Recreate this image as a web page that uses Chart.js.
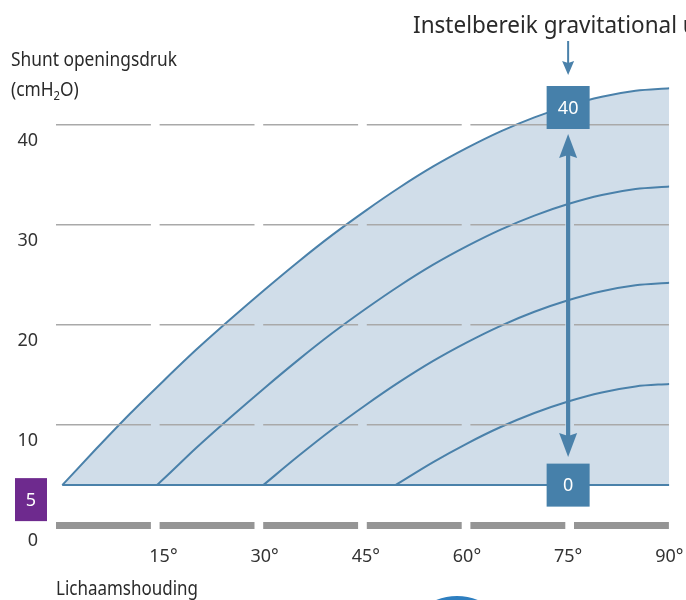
<!DOCTYPE html>
<html lang="nl">
<head>
<meta charset="UTF-8">
<title>Shunt openingsdruk</title>
<script src="https://cdn.jsdelivr.net/npm/chart.js"></script>
<style>
  html, body { margin: 0; padding: 0; background: #fff; }
  #wrap { width: 686px; height: 600px; }
</style>
</head>
<body>
<div id="wrap"><canvas id="chart" width="686" height="600"></canvas></div>
<script>
// lichaamshouding (graden) en openingsdruk (cmH2O)
const angles40 = [0, 5, 10, 15, 20, 25, 30, 35, 40, 45, 50, 55, 60, 65, 70, 75, 80, 85, 90];
const curve40  = [4.0, 7.6, 11.1, 14.4, 17.6, 20.6, 23.5, 26.3, 28.95, 31.4, 33.7, 35.8, 37.65, 39.3, 40.7, 41.85, 42.75, 43.35, 43.6];
const angles30 = [14, 15, 20, 25, 30, 35, 40, 45, 50, 55, 60, 65, 70, 75, 80, 85, 90];
const curve30  = [4.0, 4.6, 7.8, 10.8, 13.7, 16.5, 19.15, 21.6, 23.9, 26.0, 27.85, 29.5, 30.9, 32.05, 32.95, 33.55, 33.8];
const angles20 = [29.8, 35, 40, 45, 50, 55, 60, 65, 70, 75, 80, 85, 90];
const curve20  = [4.0, 6.9, 9.55, 12.0, 14.3, 16.4, 18.25, 19.9, 21.3, 22.45, 23.35, 23.95, 24.2];
const angles10 = [49.4, 55, 60, 65, 70, 75, 80, 85, 90];
const curve10  = [4.0, 6.3, 8.15, 9.8, 11.2, 12.35, 13.25, 13.85, 14.1];
const baseLevel = 4;
const yTicks = [0, 10, 20, 30, 40];
const xTicks = [15, 30, 45, 60, 75, 90];
const rangeAngle = 75;
const rangeLabels = ['40', '0'];
const bodyLabel = '5';

const lineColor = '#4a81aa';
const fillColor = '#d0dde9';
const boxColor = '#4680aa';
const textColor = '#333333';
const FONT = '"Noto Sans", "Open Sans", sans-serif';

function pts(xs, ys) {
    return xs.map((x, i) => ({ x: x, y: ys[i] }));
}

function curve(xs, ys, fill) {
    return {
        data: pts(xs, ys),
        borderColor: lineColor,
        borderWidth: 2,
        backgroundColor: fillColor,
        fill: fill,
        pointRadius: 0,
        cubicInterpolationMode: 'monotone'
    };
}

// condensed look: squeeze text horizontally to the width seen in the figure
function squeezed(ctx, str, x, y, size, refStr, refWidth) {
    ctx.font = size + 'px ' + FONT;
    const k = refWidth / ctx.measureText(refStr).width;
    ctx.save();
    ctx.translate(x, y);
    ctx.scale(k, 1);
    ctx.fillText(str, 0, 0);
    const w = ctx.measureText(str).width * k;
    ctx.restore();
    return { k: k, w: w };
}

function head(ctx, cx, tipY, dir, halfW, len, notch) {
    ctx.beginPath();
    ctx.moveTo(cx, tipY);
    ctx.lineTo(cx + halfW, tipY - dir * len);
    ctx.lineTo(cx, tipY - dir * (len - notch));
    ctx.lineTo(cx - halfW, tipY - dir * len);
    ctx.closePath();
    ctx.fill();
}

function box(ctx, cx, cy, w, h, color, label) {
    ctx.fillStyle = color;
    ctx.fillRect(cx - w / 2, cy - h / 2, w, h);
    ctx.fillStyle = '#ffffff';
    ctx.font = '18px ' + FONT;
    ctx.textAlign = 'center';
    ctx.textBaseline = 'middle';
    ctx.fillText(label, cx, cy + 1);
}

const annotations = {
    id: 'annotations',
    afterDraw(chart) {
        const ctx = chart.ctx;
        const xs = chart.scales.x, ys = chart.scales.y;
        const ax = xs.getPixelForValue(rangeAngle);
        const yBase = ys.getPixelForValue(baseLevel);
        ctx.save();

        // texts
        ctx.fillStyle = '#2a2a2a';
        ctx.textAlign = 'left';
        ctx.textBaseline = 'alphabetic';
        squeezed(ctx, 'Instelbereik gravitational unit', 413, 33, 23, 'Instelbereik gravitational', 264);
        const s = squeezed(ctx, 'Shunt openingsdruk', 11, 66, 20, 'Shunt openingsdruk', 166);
        const p = squeezed(ctx, '(cmH', 11, 96, 20, 'Shunt openingsdruk', 166);
        ctx.font = '13px ' + FONT;
        ctx.save();
        ctx.translate(11 + p.w, 100);
        ctx.scale(s.k, 1);
        ctx.fillText('2', 0, 0);
        const w2 = ctx.measureText('2').width * s.k;
        ctx.restore();
        squeezed(ctx, 'O)', 11 + p.w + w2, 96, 20, 'Shunt openingsdruk', 166);
        squeezed(ctx, 'Lichaamshouding', 56, 595, 19, 'Lichaamshouding', 142);

        // arrow from title
        ctx.fillStyle = lineColor;
        ctx.fillRect(ax - 1, 41, 2, 22);
        head(ctx, ax, 75, 1, 6, 14, 2);

        // range boxes and double arrow
        const topBoxY = 107.5;
        ctx.fillStyle = lineColor;
        ctx.fillRect(ax - 2.1, 150, 4.2, 290);
        head(ctx, ax, topBoxY + 26.5, -1, 9, 24, 3);
        head(ctx, ax, yBase - 28, 1, 9, 24, 3);
        box(ctx, ax, topBoxY, 43, 43, boxColor, rangeLabels[0]);
        box(ctx, ax, yBase, 43, 43, boxColor, rangeLabels[1]);

        // purple marker
        box(ctx, 31, yBase + 14.5, 32, 43, '#6e2a8e', bodyLabel);

        // circle peeking in at the bottom
        ctx.fillStyle = '#2e7fc0';
        ctx.beginPath();
        ctx.arc(457, 652, 56, 0, Math.PI * 2);
        ctx.fill();

        ctx.restore();
    }
};

const ctx = document.getElementById('chart').getContext('2d');
new Chart(ctx, {
    type: 'line',
    data: {
        datasets: [
            curve(angles40, curve40, { value: baseLevel }),
            curve(angles30, curve30, false),
            curve(angles20, curve20, false),
            curve(angles10, curve10, false),
            curve([0, 90], [baseLevel, baseLevel], false)
        ]
    },
    options: {
        responsive: false,
        animation: false,
        devicePixelRatio: 1,
        layout: { padding: { top: 74.3, right: 16.7, left: 0, bottom: 0 } },
        plugins: {
            legend: { display: false },
            tooltip: { enabled: false },
            filler: { drawTime: 'beforeDatasetsDraw' }
        },
        scales: {
            x: {
                type: 'linear',
                min: -0.93,
                max: 90,
                afterBuildTicks: s => { s.ticks = xTicks.map(v => ({ value: v })); },
                afterFit: s => { s.height = 74.8; s.paddingLeft = 0; s.paddingRight = 0; },
                grid: { display: false },
                border: { display: false },
                ticks: {
                    autoSkip: false,
                    maxRotation: 0,
                    padding: 13,
                    color: textColor,
                    font: { family: FONT, size: 18 },
                    callback: v => v + '°'
                }
            },
            y: {
                min: 0,
                max: 45,
                afterBuildTicks: s => { s.ticks = yTicks.map(v => ({ value: v })); },
                afterFit: s => { s.width = 56; s.paddingTop = 0; s.paddingBottom = 0; },
                grid: {
                    z: 1,
                    drawTicks: false,
                    color: c => (c.tick && c.tick.value === 0) ? '#959595' : '#a9a9a9',
                    lineWidth: c => (c.tick && c.tick.value === 0) ? 7 : 1.5
                },
                border: { display: false, dash: [94.9, 8.7] },
                ticks: {
                    padding: 18,
                    labelOffset: 16,
                    color: textColor,
                    font: { family: FONT, size: 18 }
                }
            }
        }
    },
    plugins: [annotations]
});
</script>
</body>
</html>
